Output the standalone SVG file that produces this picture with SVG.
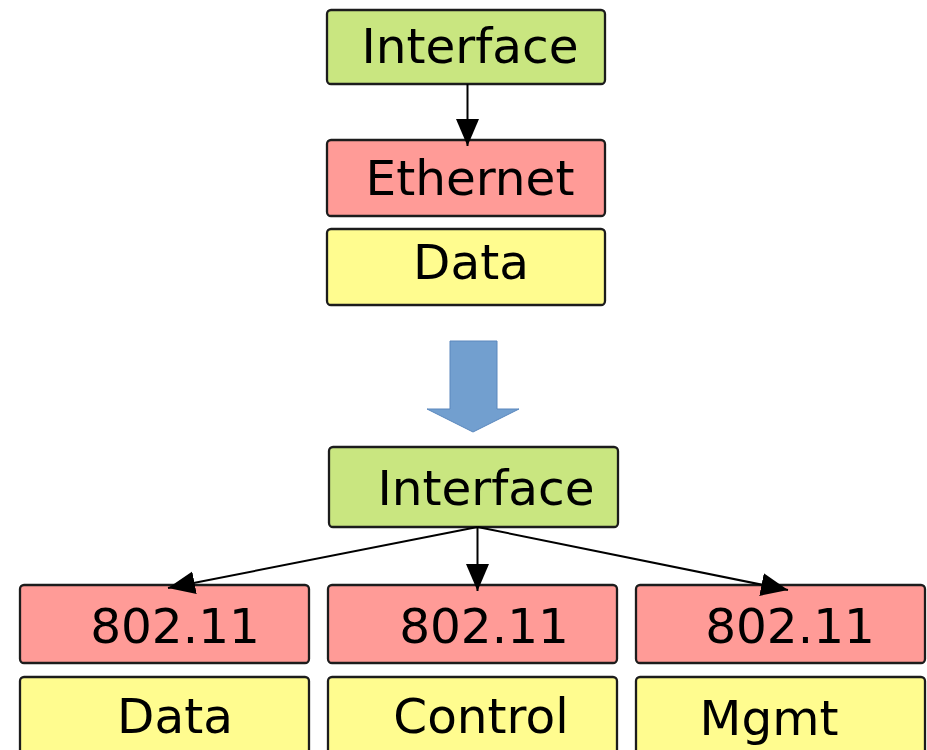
<svg xmlns="http://www.w3.org/2000/svg" width="927" height="750" viewBox="0 0 927 750">
  <defs>
    <marker id="arrow" markerUnits="userSpaceOnUse" markerWidth="28" markerHeight="24" refX="27" refY="11.5" orient="auto">
      <path d="M0,0 L27,11.5 L0,23 z" fill="#000"/>
    </marker>
  </defs>
  <style>
    .box { stroke: #1c1c1c; stroke-width: 2.3; }
    .iface { fill: #c9e680; }
    .mac { fill: #ff9b97; }
    .frame { fill: #fffc8f; }
    .lbl { font-family: "DejaVu Sans", sans-serif; font-size: 48.5px; fill: #000; text-anchor: middle; }
    .edge { stroke: #000; stroke-width: 2; fill: none; }
  </style>

  <rect width="927" height="750" fill="#fff"/>

  <!-- Ethernet stack -->
  <g id="iface-top">
    <rect class="box iface" x="327" y="10" width="278" height="74" rx="4"/>
    <text class="lbl" x="470" y="63">Interface</text>
  </g>
  <g id="ethernet">
    <rect class="box mac" x="327" y="140" width="278" height="76" rx="4"/>
    <text class="lbl" x="470" y="195">Ethernet</text>
  </g>
  <g id="eth-data">
    <rect class="box frame" x="327" y="229" width="278" height="76" rx="4"/>
    <text class="lbl" x="471" y="279">Data</text>
  </g>

  <!-- Transition arrow -->
  <g id="transition">
    <path d="M450,341 L497,341 L497,409 L519,409 L473,432 L427,409 L450,409 z" fill="#729fcf" stroke="#5a87bd" stroke-width="1"/>
  </g>

  <!-- 802.11 stack -->
  <g id="iface-bottom">
    <rect class="box iface" x="329" y="447" width="289" height="80" rx="4"/>
    <text class="lbl" x="486" y="505">Interface</text>
  </g>
  <g id="wifi-data-mac">
    <rect class="box mac" x="20" y="585" width="289" height="78" rx="4"/>
    <text class="lbl" x="175" y="643">802.11</text>
  </g>
  <g id="wifi-ctrl-mac">
    <rect class="box mac" x="328" y="585" width="289" height="78" rx="4"/>
    <text class="lbl" x="484" y="643">802.11</text>
  </g>
  <g id="wifi-mgmt-mac">
    <rect class="box mac" x="636" y="585" width="289" height="78" rx="4"/>
    <text class="lbl" x="790" y="643">802.11</text>
  </g>
  <g id="wifi-data">
    <rect class="box frame" x="20" y="677" width="289" height="90" rx="4"/>
    <text class="lbl" x="175" y="733">Data</text>
  </g>
  <g id="wifi-control">
    <rect class="box frame" x="328" y="677" width="289" height="90" rx="4"/>
    <text class="lbl" x="481" y="733">Control</text>
  </g>
  <g id="wifi-mgmt">
    <rect class="box frame" x="636" y="677" width="289" height="90" rx="4"/>
    <text class="lbl" x="769" y="735">Mgmt</text>
  </g>

  <!-- Connectors -->
  <g id="connectors">
    <line class="edge" x1="467.5" y1="84" x2="467.5" y2="146" marker-end="url(#arrow)"/>
    <line class="edge" x1="477.5" y1="527" x2="477.5" y2="591" marker-end="url(#arrow)"/>
    <line class="edge" x1="477.5" y1="527" x2="168" y2="588" marker-end="url(#arrow)"/>
    <line class="edge" x1="477.5" y1="527" x2="788" y2="590" marker-end="url(#arrow)"/>
  </g>
</svg>
